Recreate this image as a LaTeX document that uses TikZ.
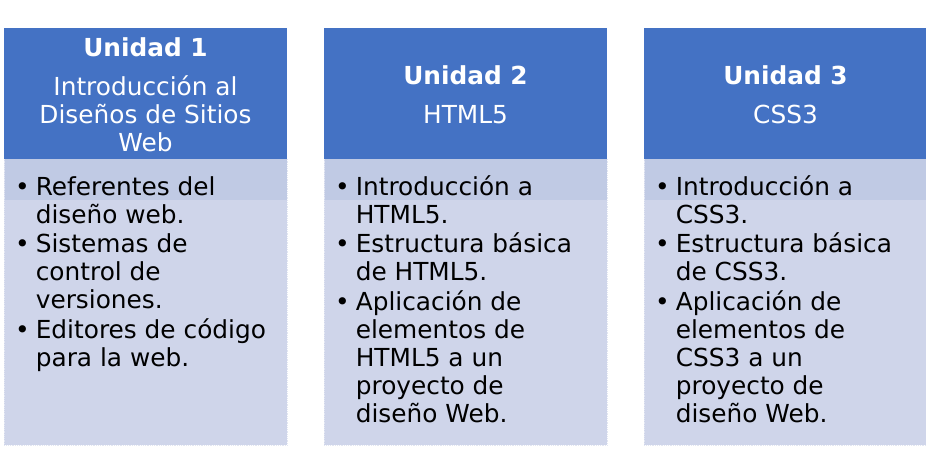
\documentclass[tikz,border=0pt]{standalone}
\usepackage{fontspec}
\setmainfont{DejaVu Sans}
\definecolor{hdrblue}{HTML}{4472C4}
\definecolor{bodybg}{HTML}{CFD5EA}
\definecolor{bandbg}{HTML}{C0CAE4}
\tikzset{
  hdr/.style={fill=hdrblue, draw=none, minimum width=283pt, minimum height=131pt, anchor=north west, inner sep=0pt},
  bodybox/.style={fill=bodybg, draw=bodybg!60!white, densely dotted, line width=0.8pt, minimum width=283pt, minimum height=286pt, anchor=north west, inner sep=0pt},
  band/.style={fill=bandbg, draw=none, minimum width=282pt, minimum height=41pt, anchor=north west, inner sep=0pt},
  hdrtext/.style={text=white, anchor=base, inner sep=0pt, font=\fontsize{24.8}{28}\selectfont},
  listtext/.style={text=black, anchor=base west, inner sep=0pt, font=\fontsize{24.8}{28}\selectfont}
}
\newcommand{\blt}{\textbullet}
\newcommand{\itemgap}{\\[1.5pt]}
\begin{document}
\begin{tikzpicture}[x=1pt,y=-1pt]
\useasboundingbox (0,0) rectangle (926,474);
% column 1
\node[bodybox] (b1) at (4,159) {};
\node[band] (s1) at (4.5,159) {};
\node[hdr] (h1) at (4,28) {};
\node[hdrtext] (t1) at (145.5,56) {\begin{tabular}[t]{@{}c@{}}\textbf{Unidad 1}\\[11pt]Introducción al\\Diseños de Sitios\\Web\end{tabular}};
\node[listtext] (l1) at (15,195) {\begin{tabular}[t]{@{}l@{\hspace{6pt}}l@{}}\blt & Referentes del\\ & diseño web.\itemgap
\blt & Sistemas de\\ & control de\\ & versiones.\itemgap
\blt & Editores de código\\ & para la web.\end{tabular}};
% column 2
\node[bodybox] (b2) at (324,159) {};
\node[band] (s2) at (324.5,159) {};
\node[hdr] (h2) at (324,28) {};
\node[hdrtext] (t2) at (465.5,84) {\begin{tabular}[t]{@{}c@{}}\textbf{Unidad 2}\\[11pt]HTML5\end{tabular}};
\node[listtext] (l2) at (335,195) {\begin{tabular}[t]{@{}l@{\hspace{6pt}}l@{}}\blt & Introducción a\\ & HTML5.\itemgap
\blt & Estructura básica\\ & de HTML5.\itemgap
\blt & Aplicación de\\ & elementos de\\ & HTML5 a un\\ & proyecto de\\ & diseño Web.\end{tabular}};
% column 3
\node[bodybox] (b3) at (644,159) {};
\node[band] (s3) at (644.5,159) {};
\node[hdr] (h3) at (644,28) {};
\node[hdrtext] (t3) at (785.5,84) {\begin{tabular}[t]{@{}c@{}}\textbf{Unidad 3}\\[11pt]CSS3\end{tabular}};
\node[listtext] (l3) at (655,195) {\begin{tabular}[t]{@{}l@{\hspace{6pt}}l@{}}\blt & Introducción a\\ & CSS3.\itemgap
\blt & Estructura básica\\ & de CSS3.\itemgap
\blt & Aplicación de\\ & elementos de\\ & CSS3 a un\\ & proyecto de\\ & diseño Web.\end{tabular}};
\end{tikzpicture}
\end{document}
